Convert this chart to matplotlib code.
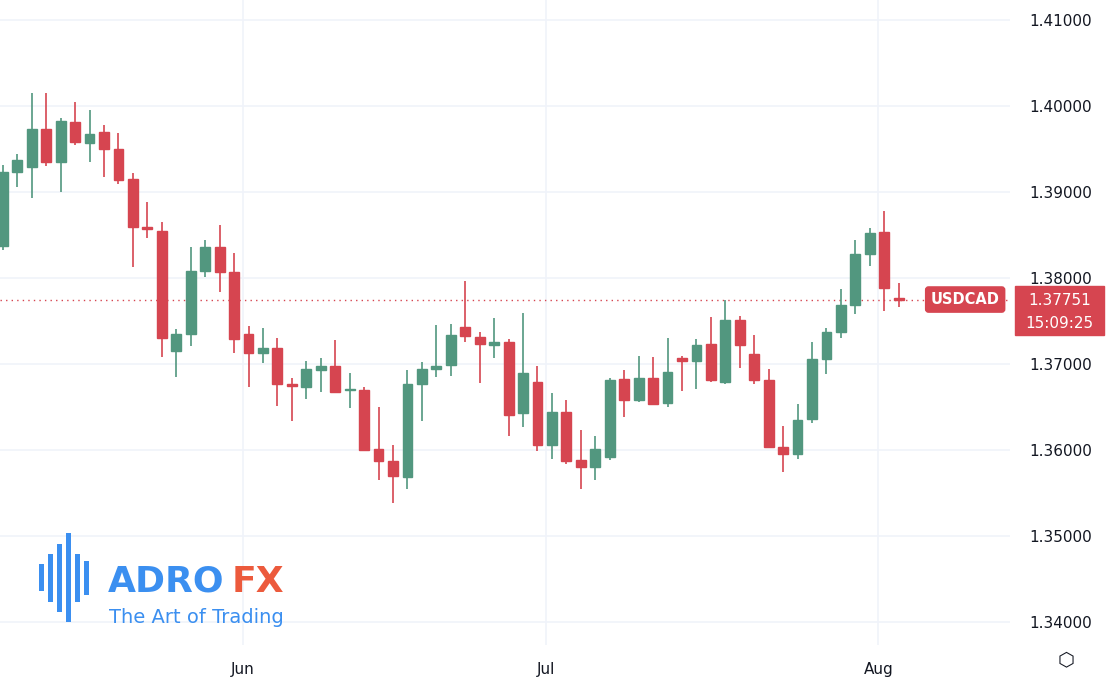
import numpy as np
import pandas as pd
import matplotlib.pyplot as plt
from matplotlib.patches import Rectangle

# candles (pixel y -> price via 1.41 - (y-20)/8600)
dates = pd.bdate_range(end="2025-08-04", periods=63)
opens_px = [246, 172, 167, 129, 162, 122, 143, 132, 149, 179, 227, 231, 351, 334, 271, 247, 272, 334,
            353, 348, 384, 387, 370, 366, 390, 390, 449, 461, 477, 384, 369, 365, 327, 337, 345, 342,
            413, 382, 445, 412, 460, 467, 457, 379, 400, 378, 403, 358, 361, 344, 382, 320, 354, 380,
            447, 454, 419, 359, 332, 305, 254, 232, 299]
highs_px = [165, 154, 93, 93, 118, 102, 110, 125, 133, 173, 202, 222, 329, 247, 240, 225, 253, 326,
            328, 338, 378, 361, 358, 340, 373, 387, 407, 445, 370, 362, 325, 324, 281, 332, 318, 339,
            313, 366, 393, 400, 430, 436, 378, 370, 356, 357, 338, 356, 339, 317, 300, 316, 335, 369,
            426, 404, 342, 328, 289, 240, 228, 211, 283]
lows_px = [250, 187, 198, 166, 192, 145, 162, 177, 184, 267, 238, 357, 377, 346, 277, 292, 353, 387,
           363, 406, 421, 399, 392, 392, 408, 450, 480, 503, 489, 421, 377, 376, 342, 383, 358, 436,
           427, 451, 459, 464, 489, 480, 460, 417, 402, 404, 407, 391, 389, 382, 384, 368, 384, 448,
           472, 459, 423, 374, 338, 314, 266, 311, 307]
closes_px = [172, 160, 129, 162, 121, 142, 134, 149, 180, 227, 229, 338, 334, 271, 247, 272, 339, 353,
             348, 384, 386, 369, 366, 392, 389, 450, 461, 476, 384, 369, 366, 335, 336, 344, 342, 415,
             373, 445, 412, 461, 467, 449, 380, 400, 378, 404, 372, 361, 345, 380, 320, 345, 380, 447,
             454, 420, 359, 332, 305, 254, 233, 288, 300]
last_price = 1.37751


def px(v):
    return 1.41 - (np.array(v) - 20) / 8600.0


opens, highs, lows, closes = px(opens_px), px(highs_px), px(lows_px), px(closes_px)
closes[-1] = last_price

green = "#52977f"
red = "#d64550"

fig = plt.figure(figsize=(11.14, 6.82), dpi=100)
ax = fig.add_axes([0, 0.054, 0.9066, 0.946])

x = np.arange(len(dates))
for i in x:
    up = closes[i] >= opens[i]
    col = green if up else red
    ax.vlines(i, lows[i], highs[i], color=col, lw=1.2, zorder=3)
    lo, hi = min(opens[i], closes[i]), max(opens[i], closes[i])
    h = max(hi - lo, 0.00012)
    ax.add_patch(Rectangle((i - 0.34, lo), 0.68, h, color=col, zorder=4))

ax.set_xlim(-0.2, 69.7)
ax.set_ylim(1.33733, 1.41233)

# month ticks
month_idx = [list(dates).index(pd.Timestamp(d)) for d in ["2025-06-02", "2025-07-01", "2025-08-01"]]
ax.set_xticks([m - 0.4 for m in month_idx])
ax.set_xticklabels(["Jun", "Jul", "Aug"], fontsize=11, color="#131722")
yt = np.arange(1.34, 1.411, 0.01)
ax.set_yticks(yt)
ax.set_yticklabels([f"{v:.5f}" for v in yt], fontsize=11, color="#131722")
ax.yaxis.tick_right()
ax.tick_params(length=0, pad=12)
ax.tick_params(axis="y", pad=14)
ax.grid(True, color="#f0f3fa", lw=1.2, zorder=0)
for s in ax.spines.values():
    s.set_visible(False)

# last price line and labels
ax.axhline(last_price, color=red, lw=1, ls=(0, (1, 3)), zorder=2)
ax.text(66.6, last_price, "USDCAD", color="white", fontsize=10.5, fontweight="bold",
        ha="center", va="center", zorder=6,
        bbox=dict(boxstyle="round,pad=0.35,rounding_size=0.2", fc=red, ec=red))
fig.patches.append(Rectangle((0.911, 0.509), 0.08, 0.071, transform=fig.transFigure,
                             fc=red, ec=red, zorder=5))
fig.text(0.951, 0.560, "1.37751", color="white", fontsize=11, ha="center", va="center", zorder=6)
fig.text(0.951, 0.525, "15:09:25", color="white", fontsize=11, ha="center", va="center", zorder=6)

# logo
bar_x = [0.035, 0.043, 0.051, 0.059, 0.067, 0.075]
bar_h = [0.04, 0.07, 0.10, 0.13, 0.07, 0.05]
for bx, bh in zip(bar_x, bar_h):
    fig.patches.append(Rectangle((bx, 0.143 - bh / 2 + 0.01), 0.0045, bh, transform=fig.transFigure,
                                 fc="#3b8ff0", ec="none", zorder=6))
fig.text(0.097, 0.147, "ADRO", color="#3b8ff0", fontsize=26, fontweight="bold", va="center", zorder=6)
fig.text(0.208, 0.147, "FX", color="#ec5a3c", fontsize=26, fontweight="bold", va="center", zorder=6)
fig.text(0.098, 0.095, "The Art of Trading", color="#3b8ff0", fontsize=14, va="center", zorder=6)

# settings icon
fig.text(0.957, 0.032, "\u2b21", color="#131722", fontsize=14, ha="center", va="center")

fig.savefig("out.png", dpi=100)
